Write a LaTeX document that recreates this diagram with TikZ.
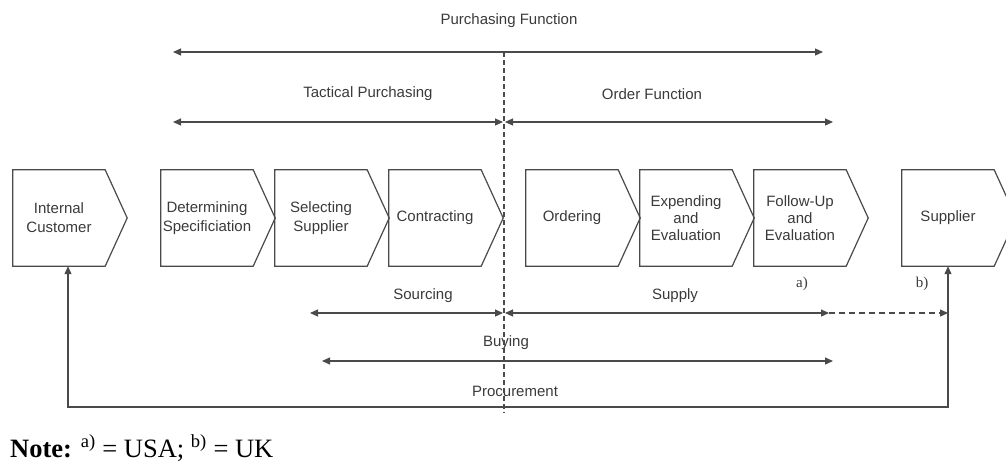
\documentclass[tikz,border=0pt]{standalone}
\usepackage{fontspec}
\setmainfont{Liberation Sans}
\newfontfamily\notefont{Liberation Serif}
\usetikzlibrary{arrows.meta}
\definecolor{ink}{HTML}{4A4A4A}
\definecolor{txt}{HTML}{3A3A3A}

\begin{document}
\begin{tikzpicture}[x=1pt,y=-1pt,
  line/.style={draw=ink, line width=1.2pt},
  head/.tip={Triangle[length=8pt,width=7pt]},
  both/.style={line, head-head},
  body/.style={minimum width=92pt, minimum height=96pt, inner sep=0pt,
    align=center, text=txt, font=\fontsize{15}{17}\selectfont},
  lbl/.style={text=txt, font=\fontsize{15}{17}\selectfont, inner sep=0pt},
  footmark/.style={text=txt, font=\notefont\fontsize{15}{18}\selectfont, inner sep=0pt},
  guide/.style={draw=ink, line width=1.2pt, dash pattern=on 5pt off 3pt}
]
\useasboundingbox (0,0) rectangle (1006,466);

% process steps (body centres; each chevron tip adds 22pt on the right)
\node[body] (ic)  at (59,218)  {Internal\\[2pt]Customer};
\node[body] (ds)  at (207,218) {Determining\\[2pt]Specificiation};
\node[body] (ss)  at (321,218) {Selecting\\[2pt]Supplier};
\node[body] (ct)  at (435,218) {Contracting};
\node[body] (od)  at (572,218) {Ordering};
\node[body] (ex)  at (686,218) {Expending\\and\\Evaluation};
\node[body] (fu)  at (800,218) {Follow-Up\\and\\Evaluation};
\node[body] (sup) at (948,218) {Supplier};
\foreach \n in {ic,ds,ss,ct,od,ex,fu,sup}
  \draw[line] (\n.north west) -- (\n.north east) -- ([xshift=22pt]\n.east)
    -- (\n.south east) -- (\n.south west) -- cycle;

% span labels
\node[lbl] (pf)   at (509,21)  {Purchasing Function};
\node[lbl] (tp)   at (368,94)  {Tactical Purchasing};
\node[lbl] (of)   at (652,94)  {Order Function};
\node[lbl] (src)  at (423,296) {Sourcing};
\node[lbl] (spl)  at (675,296) {Supply};
\node[lbl] (buy)  at (506,343) {Buying};
\node[lbl] (proc) at (515,391) {Procurement};
\node[footmark] (ma)  at (802,284) {a)};
\node[footmark] (mb)  at (922,284) {b)};

% span arrows
\coordinate (pfL) at (173,52);  \coordinate (pfR) at (823,52);
\coordinate (tpL) at (173,122); \coordinate (tpR) at (503,122);
\coordinate (ofL) at (505,122); \coordinate (ofR) at (833,122);
\coordinate (srL) at (310,313); \coordinate (srR) at (503,313);
\coordinate (suL) at (505,313); \coordinate (suR) at (829,313);
\coordinate (buL) at (322,361); \coordinate (buR) at (833,361);
\coordinate (base) at (0,407);
\coordinate (icfoot) at ([xshift=9pt]ic.south);

\draw[both] (pfL) -- (pfR);
\draw[both] (tpL) -- (tpR);
\draw[both] (ofL) -- (ofR);
\draw[both] (srL) -- (srR);
\draw[both] (suL) -- (suR);
\draw[line, dash pattern=on 6pt off 4pt, -head] (suR) -- (suR -| sup.south);
\draw[both] (buL) -- (buR);
\draw[both] (icfoot) -- (icfoot |- base) -- (sup.south |- base) -- (sup.south);

% dividing line between tactical purchasing and ordering
\draw[guide] (504,52) -- (504,413);

% footnote
\node[anchor=base west, inner sep=0pt, text=black, font=\notefont\fontsize{26.5}{30}\selectfont] (note) at (10,457)
  {\textbf{Note:} \textsuperscript{a)} = USA; \textsuperscript{b)} = UK};
\end{tikzpicture}
\end{document}
